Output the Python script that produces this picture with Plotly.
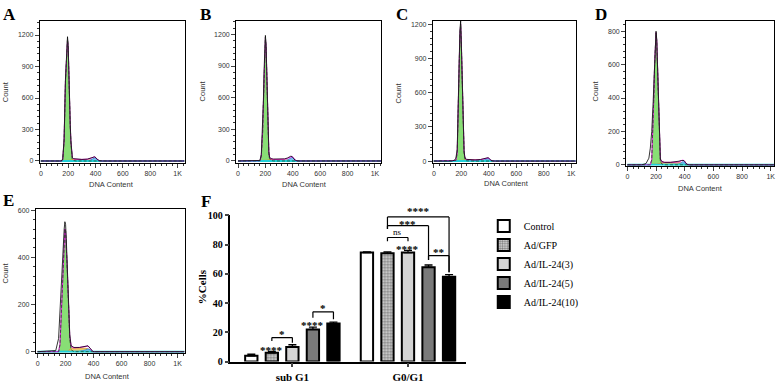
import plotly.graph_objects as go

# ---------------- DNA histogram data (A-E) ----------------
DNA = [0, 100, 130, 150, 160, 170, 180, 185, 190, 195, 200, 205, 210, 215, 220, 225, 230,
       240, 260, 300, 340, 360, 375, 385, 395, 405, 415, 430, 450, 1050]

A_data = [0, 0, 0, 0, 20, 210, 780, 950, 1100, 1184, 1100, 750, 550, 350, 190, 80, 35,
          22, 18, 15, 18, 26, 35, 42, 40, 28, 12, 3, 0, 0]
A_g1 = [0, 0, 0, 0, 10, 190, 760, 930, 1080, 1160, 1080, 730, 530, 330, 170, 60, 20,
        4, 0, 0, 0, 0, 0, 0, 0, 0, 0, 0, 0, 0]
A_s = [0, 0, 0, 0, 0, 0, 0, 0, 0, 0, 2, 4, 6, 8, 10, 11, 12,
       14, 15, 15, 15, 14, 12, 10, 8, 4, 1, 0, 0, 0]
A_g2 = [0, 0, 0, 0, 0, 0, 0, 0, 0, 0, 0, 0, 0, 0, 0, 0, 0,
        0, 0, 0, 2, 8, 18, 28, 30, 24, 10, 2, 0, 0]

B_data = [0, 0, 0, 0, 5, 60, 300, 550, 850, 1080, 1190, 1100, 800, 480, 220, 90, 38,
          22, 18, 16, 20, 28, 38, 45, 42, 30, 10, 2, 0, 0]
B_g1 = [0, 0, 0, 0, 2, 45, 280, 530, 830, 1060, 1170, 1080, 780, 460, 200, 70, 25,
        5, 0, 0, 0, 0, 0, 0, 0, 0, 0, 0, 0, 0]
B_s = [0, 0, 0, 0, 0, 0, 0, 0, 0, 0, 2, 4, 6, 8, 10, 11, 12,
       14, 15, 15, 15, 14, 12, 10, 8, 4, 1, 0, 0, 0]
B_g2 = [0, 0, 0, 0, 0, 0, 0, 0, 0, 0, 0, 0, 0, 0, 0, 0, 0,
        0, 0, 0, 2, 10, 22, 32, 34, 26, 8, 1, 0, 0]

C_data = [0, 0, 0, 8, 25, 100, 500, 900, 1150, 1230, 1050, 750, 450, 220, 90, 40, 20,
          15, 12, 10, 14, 20, 28, 32, 30, 20, 8, 1, 0, 0]
C_g1 = [0, 0, 0, 0, 5, 70, 470, 870, 1120, 1200, 1030, 730, 430, 200, 75, 28, 8,
        2, 0, 0, 0, 0, 0, 0, 0, 0, 0, 0, 0, 0]
C_s = [0, 0, 0, 0, 0, 0, 0, 0, 0, 0, 2, 4, 6, 7, 8, 9, 10,
       11, 11, 10, 10, 10, 9, 8, 6, 3, 1, 0, 0, 0]
C_g2 = [0, 0, 0, 0, 0, 0, 0, 0, 0, 0, 0, 0, 0, 0, 0, 0, 0,
        0, 0, 0, 3, 8, 16, 22, 22, 16, 6, 1, 0, 0]

D_data = [0, 0, 8, 40, 100, 200, 380, 500, 650, 760, 800, 750, 600, 400, 200, 80, 35,
          20, 15, 15, 18, 22, 26, 28, 26, 15, 4, 0, 0, 0]
D_g1 = [0, 0, 0, 0, 0, 30, 250, 420, 600, 740, 790, 740, 590, 390, 190, 70, 25,
        5, 0, 0, 0, 0, 0, 0, 0, 0, 0, 0, 0, 0]
D_s = [0, 0, 0, 0, 0, 0, 0, 0, 0, 0, 2, 4, 6, 7, 8, 10, 12,
       14, 15, 15, 15, 14, 12, 10, 8, 4, 1, 0, 0, 0]
D_g2 = [0, 0, 0, 0, 0, 0, 0, 0, 0, 0, 0, 0, 0, 0, 0, 0, 0,
        0, 0, 0, 1, 4, 12, 18, 18, 10, 3, 0, 0, 0]

E_data = [0, 3, 5, 56, 180, 315, 430, 480, 520, 551, 540, 480, 400, 320, 240, 190, 70,
          25, 18, 18, 22, 25, 15, 5, 1, 0, 0, 0, 0, 0]
E_g1 = [0, 0, 0, 0, 30, 180, 360, 440, 490, 520, 510, 460, 380, 300, 220, 160, 55,
        8, 0, 0, 0, 0, 0, 0, 0, 0, 0, 0, 0, 0]
E_s = [0, 0, 0, 0, 0, 0, 0, 0, 0, 0, 0, 0, 0, 0, 4, 6, 10,
       14, 16, 16, 15, 12, 6, 2, 0, 0, 0, 0, 0, 0]
E_g2 = [0, 0, 0, 0, 0, 0, 0, 0, 0, 0, 0, 0, 0, 0, 0, 0, 0,
        0, 0, 2, 7, 12, 8, 3, 0, 0, 0, 0, 0, 0]

X_TICKS = [0, 200, 400, 600, 800, 1000]
X_TICKTEXT = ["0", "200", "400", "600", "800", "1K"]
Y_TICKS_ABC = [0, 300, 600, 900, 1200]
Y_TICKS_DE = [0, 200, 400, 600, 800]

# ---------------- Bar chart data (F) ----------------
phases = ["sub G1", "G0/G1"]
groups = ["Control", "Ad/GFP", "Ad/IL-24(3)", "Ad/IL-24(5)", "Ad/IL-24(10)"]
means = {
    "Control": [4.0, 74.5],
    "Ad/GFP": [6.0, 74.0],
    "Ad/IL-24(3)": [10.0, 74.5],
    "Ad/IL-24(5)": [22.0, 64.5],
    "Ad/IL-24(10)": [26.0, 58.0],
}
errs = {
    "Control": [1.0, 0.5],
    "Ad/GFP": [1.0, 1.0],
    "Ad/IL-24(3)": [1.5, 1.5],
    "Ad/IL-24(5)": [1.5, 1.5],
    "Ad/IL-24(10)": [1.0, 1.5],
}
# brackets: (phase index, bar from, bar to, line y, left leg bottom, right leg bottom, label)
brackets = [
    (0, 1, 2, 16.4, 14.1, 12.8, "*"),
    (0, 3, 4, 34.0, 30.0, 29.0, "*"),
    (1, 1, 2, 84.8, 82.3, 82.3, "ns"),
    (1, 1, 3, 92.9, 90.7, 69.5, "***"),
    (1, 1, 4, 98.9, 90.7, 61.0, "****"),
    (1, 3, 4, 72.4, 69.5, 61.0, "**"),
]
# single labels above bars: (phase index, bar index, y, label)
bar_labels = [
    (0, 1, 9.5, "****"),
    (0, 3, 26.5, "****"),
    (1, 2, 78.5, "****"),
]

W, H = 777, 386


def px_dom_x(a, b):
    return [a / W, b / W]


def px_dom_y(top, bottom):
    return [1 - bottom / H, 1 - top / H]


fig = go.Figure()

hist_panels = [
    ("A", A_data, A_g1, A_s, A_g2, 1, (39, 184), (15, 161.7), [-7, 1051], [-16, 1338], Y_TICKS_ABC, 60),
    ("B", B_data, B_g1, B_s, B_g2, 2, (235.7, 381), (15, 161.7), [-14, 1044], [-16, 1331], Y_TICKS_ABC, 60),
    ("C", C_data, C_g1, C_s, C_g2, 3, (433, 576), (15, 161.7), [-7, 1031], [-14, 1234], Y_TICKS_ABC, 60),
    ("D", D_data, D_g1, D_s, D_g2, 4, (626.7, 775), (15, 165), [-9, 1023], [-6, 864], Y_TICKS_DE, 40),
    ("E", E_data, E_g1, E_s, E_g2, 5, (35, 184), (210, 358), [-12, 1050], [-5, 603], Y_TICKS_DE, 40),
]

tickfont = dict(family="Liberation Sans", size=7, color="#333")
layout_axes = {}
for name, data, g1, s, g2, k, xd, yd, xr, yr, yt, ymin in hist_panels:
    xa = "x" if k == 1 else f"x{k}"
    ya = "y" if k == 1 else f"y{k}"
    model = [a + b + c for a, b, c in zip(g1, s, g2)]
    fig.add_trace(go.Scatter(x=DNA, y=g1, xaxis=xa, yaxis=ya, mode="lines", fill="tozeroy",
                             fillcolor="rgba(130,220,110,0.95)", line=dict(color="#3c9c2c", width=0.7),
                             showlegend=False, hoverinfo="skip"))
    fig.add_trace(go.Scatter(x=DNA, y=s, xaxis=xa, yaxis=ya, mode="lines", fill="tozeroy",
                             fillcolor="rgba(230,200,90,0.9)", line=dict(color="#e09030", width=0.8),
                             showlegend=False, hoverinfo="skip"))
    fig.add_trace(go.Scatter(x=DNA, y=g2, xaxis=xa, yaxis=ya, mode="lines", fill="tozeroy",
                             fillcolor="rgba(110,190,240,0.9)", line=dict(color="#3080d0", width=0.8),
                             showlegend=False, hoverinfo="skip"))
    fig.add_trace(go.Scatter(x=[DNA[0], DNA[-1]], y=[0, 0], xaxis=xa, yaxis=ya, mode="lines",
                             line=dict(color="#20d0d8", width=2), showlegend=False, hoverinfo="skip"))
    fig.add_trace(go.Scatter(x=DNA, y=model, xaxis=xa, yaxis=ya, mode="lines",
                             line=dict(color="#ff00ff", width=0.9), showlegend=False, hoverinfo="skip"))
    fig.add_trace(go.Scatter(x=DNA, y=data, xaxis=xa, yaxis=ya, mode="lines",
                             line=dict(color="black", width=0.8), showlegend=False, hoverinfo="skip"))
    fig.add_trace(go.Scatter(x=DNA, y=g1, xaxis=xa, yaxis=ya, mode="lines",
                             line=dict(color="#1a3a1a", width=0.7, dash="3px,2px"),
                             showlegend=False, hoverinfo="skip"))

    xkey = "xaxis" if k == 1 else f"xaxis{k}"
    ykey = "yaxis" if k == 1 else f"yaxis{k}"
    layout_axes[xkey] = dict(domain=px_dom_x(*xd), anchor=ya, range=xr, tickvals=X_TICKS,
                             ticktext=X_TICKTEXT, ticks="outside", ticklen=4, tickwidth=1,
                             showline=True, linecolor="black", linewidth=1, mirror=True,
                             showgrid=False, zeroline=False, tickfont=tickfont,
                             minor=dict(dtick=40, tick0=0, ticks="outside", ticklen=2, tickcolor="#333"))
    layout_axes[ykey] = dict(domain=px_dom_y(*yd), anchor=xa, range=yr, tickvals=yt,
                             ticks="outside", ticklen=4, tickwidth=1,
                             showline=True, linecolor="black", linewidth=1, mirror=True,
                             showgrid=False, zeroline=False, tickfont=tickfont,
                             minor=dict(dtick=ymin, tick0=0, ticks="outside", ticklen=2, tickcolor="#333"))

# ---------------- Panel F bars ----------------
fills = {
    "Control": dict(color="white"),
    "Ad/GFP": dict(color="white", pattern=dict(shape=".", fgcolor="#222", bgcolor="#ddd", size=3, solidity=0.5)),
    "Ad/IL-24(3)": dict(color="#d4d4d4"),
    "Ad/IL-24(5)": dict(color="#7a7a7a"),
    "Ad/IL-24(10)": dict(color="black"),
}
for g in groups:
    m = dict(fills[g])
    m["line"] = dict(color="black", width=2)
    fig.add_trace(go.Bar(x=phases, y=means[g], name=g, xaxis="x6", yaxis="y6", marker=m,
                         error_y=dict(type="data", array=errs[g], arrayminus=[0, 0], symmetric=False,
                                      color="black", thickness=1.3, width=4)))

BARGAP = 0.112
slot = (1 - BARGAP) / len(groups)


def bar_x(phase, i):
    return phase + (i - (len(groups) - 1) / 2) * slot


shapes = []
annotations = []
star_font = dict(family="Liberation Serif", size=11, color="#000000", weight="bold")
star_shift = {"****": 6, "***": 2, "**": 4, "*": 4}
for ph, i0, i1, yl, yb0, yb1, lab in brackets:
    x0, x1 = bar_x(ph, i0), bar_x(ph, i1)
    for (xa0, ya0, xa1, ya1) in [(x0, yl, x1, yl), (x0, yb0, x0, yl), (x1, yb1, x1, yl)]:
        shapes.append(dict(type="line", xref="x6", yref="y6", x0=xa0, y0=ya0, x1=xa1, y1=ya1,
                           line=dict(color="black", width=1.2)))
    if lab == "ns":
        annotations.append(dict(x=(x0 + x1) / 2, y=yl, xref="x6", yref="y6", text=lab, showarrow=False,
                                yanchor="bottom", yshift=-1,
                                font=dict(family="Liberation Serif", size=9, color="black")))
    else:
        annotations.append(dict(x=(x0 + x1) / 2, y=yl, xref="x6", yref="y6", text=lab, showarrow=False,
                                yanchor="middle", yshift=star_shift[lab], font=star_font))
for ph, i, yv, lab in bar_labels:
    annotations.append(dict(x=bar_x(ph, i), y=yv, xref="x6", yref="y6", text=lab, showarrow=False,
                            yanchor="middle", yshift=-2, font=star_font))

serif_bold = dict(family="Liberation Serif", size=10, color="black", weight="bold")
layout_axes["xaxis6"] = dict(domain=px_dom_x(230, 466), anchor="y6", type="category",
                             range=[-0.536, 1.5], ticks="outside", ticklen=4, tickwidth=1.5,
                             showline=True, linecolor="black", linewidth=1.5, showgrid=False,
                             tickfont=dict(family="Liberation Serif", size=11, color="black", weight="bold"))
layout_axes["yaxis6"] = dict(domain=px_dom_y(216, 367), anchor="x6", range=[0, 100],
                             tickvals=[0, 20, 40, 60, 80, 100], ticks="outside", ticklen=4, tickwidth=1.5,
                             showline=True, linecolor="black", linewidth=1.5, showgrid=False,
                             zeroline=False, tickfont=serif_bold)

# ---------------- Text labels ----------------
letter_font = dict(family="Liberation Serif", size=17, color="black", weight="bold")
for txt, x, y in [("A", 9, 9), ("B", 205, 9), ("C", 402, 9), ("D", 602, 9), ("E", 8, 201), ("F", 206, 202)]:
    annotations.append(dict(x=x / W, y=1 - y / H, xref="paper", yref="paper", text=txt, showarrow=False,
                            xanchor="center", yanchor="middle", font=letter_font))
lab_font = dict(family="Liberation Sans", size=7.5, color="#333")
for x, y in [(4, 88), (201.7, 88), (398.3, 90), (595.7, 88), (4, 275)]:
    annotations.append(dict(x=x / W, y=1 - y / H, xref="paper", yref="paper", text="Count", showarrow=False,
                            textangle=-90, xanchor="center", yanchor="middle", font=lab_font))
for x, y in [(111, 184), (304, 184), (506.7, 183), (701.7, 188), (106.7, 382.7)]:
    annotations.append(dict(x=x / W, y=1 - y / H, xref="paper", yref="paper", text="DNA Content",
                            showarrow=False, xanchor="center", yanchor="middle", font=lab_font))
annotations.append(dict(x=201.7 / W, y=1 - 290 / H, xref="paper", yref="paper", text="%Cells", showarrow=False,
                        textangle=-90, xanchor="center", yanchor="middle",
                        font=dict(family="Liberation Serif", size=11, color="black", weight="bold")))

fig.update_layout(
    width=W, height=H, margin=dict(l=0, r=0, t=0, b=0),
    paper_bgcolor="white", plot_bgcolor="white",
    barmode="group", bargap=BARGAP, bargroupgap=0.4,
    showlegend=True,
    legend=dict(x=484 / W, y=1 - 212 / H, xanchor="left", yanchor="top", bgcolor="rgba(0,0,0,0)",
                font=dict(family="Liberation Serif, Times New Roman, serif", size=10, color="black"),
                tracegroupgap=0, itemwidth=30),
    shapes=shapes, annotations=annotations,
    **layout_axes,
)

fig.write_html("out.html", config={"displayModeBar": False},
               post_script="document.body.style.margin='0';document.body.style.padding='0';")
